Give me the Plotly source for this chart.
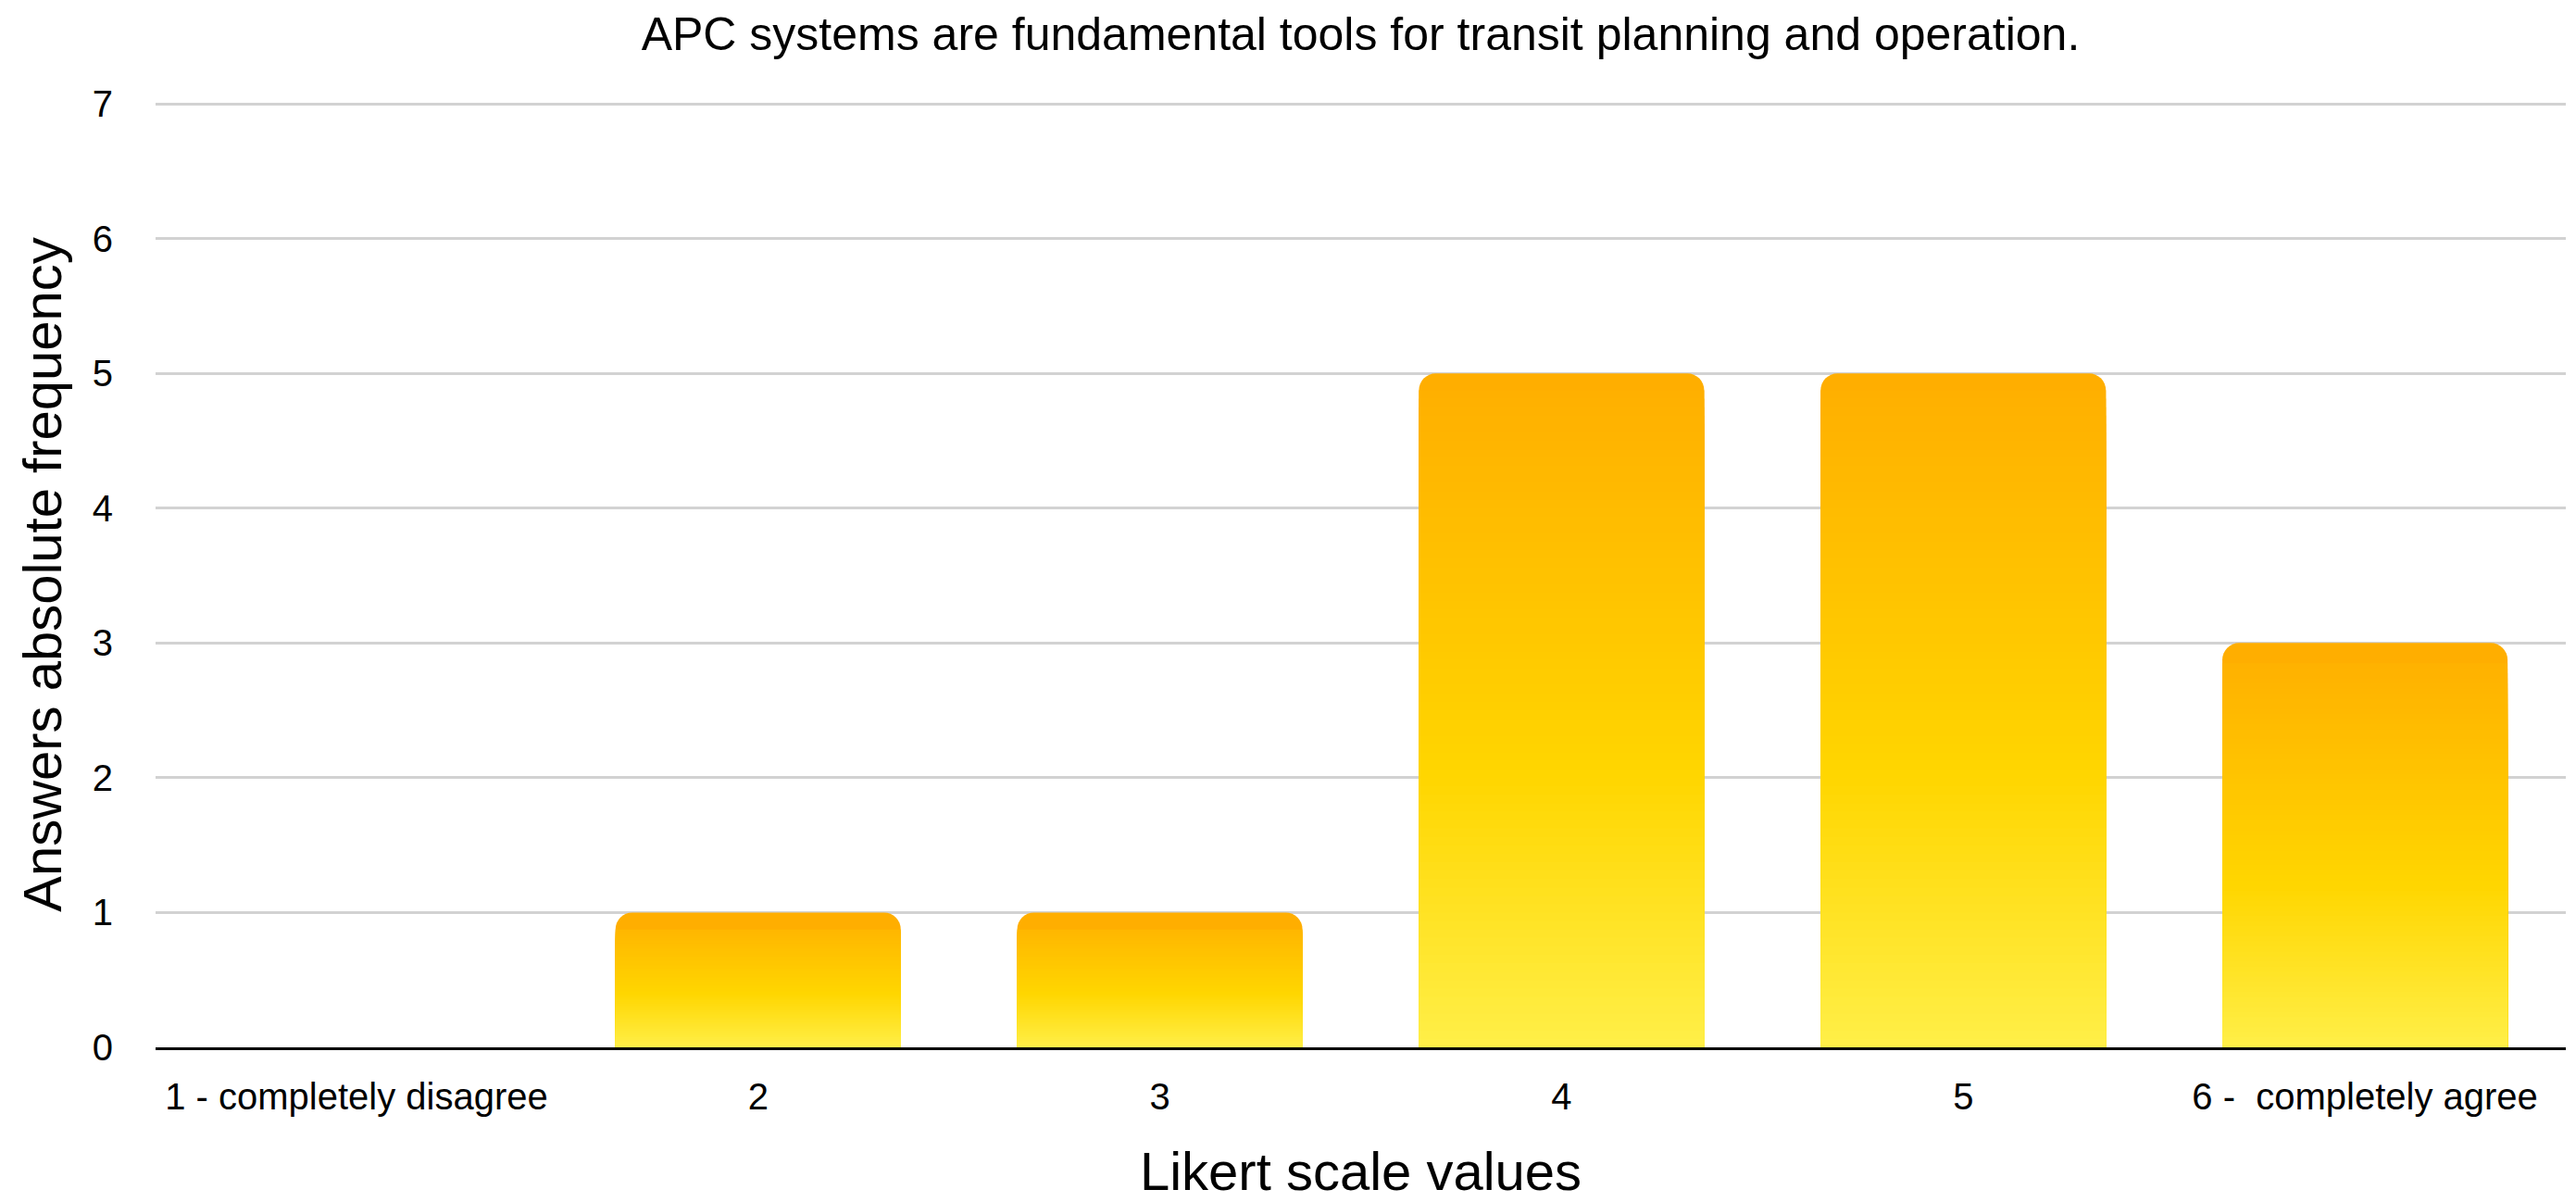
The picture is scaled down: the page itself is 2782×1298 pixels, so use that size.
import plotly.graph_objects as go

# ---- data ----
categories = ["1 - completely disagree", "2", "3", "4", "5", "6 -\u00a0 completely agree"]
counts = [0, 1, 1, 5, 5, 3]
y_tick_values = [0, 1, 2, 3, 4, 5, 6, 7]

title_text = "APC systems are fundamental tools for transit planning and operation."
x_title = "Likert scale values"
y_title = "Answers absolute frequency"

# ---- styling ----
W, H = 2782, 1298
MARGIN = dict(l=168, r=11, t=110, b=163)
Y_MAX = 7.015
CORNER_PX = 18
N_LAYERS = 80
FONT = "Liberation Sans, Arial, Helvetica, sans-serif"
GRADIENT = [(0.0, (255, 174, 0)), (0.6, (255, 214, 0)), (1.0, (255, 239, 72))]


def grad(t):
    for (t0, c0), (t1, c1) in zip(GRADIENT[:-1], GRADIENT[1:]):
        if t <= t1:
            f = (t - t0) / (t1 - t0) if t1 > t0 else 0
            r, g, b = (round(a + (bb - a) * f) for a, bb in zip(c0, c1))
            return f"rgb({r},{g},{b})"
    r, g, b = GRADIENT[-1][1]
    return f"rgb({r},{g},{b})"


px_per_unit = (H - MARGIN["t"] - MARGIN["b"]) / Y_MAX
r_data = CORNER_PX / px_per_unit

fig = go.Figure()
# full-height rounded bar (top colour)
fig.add_trace(go.Bar(
    x=categories, y=counts,
    marker=dict(color=grad(0.0), cornerradius=CORNER_PX, line=dict(width=0)),
    showlegend=False,
    hovertemplate="%{x}: %{y}<extra></extra>",
))
# nested layers producing the vertical gradient inside each bar
for k in range(1, N_LAYERS):
    t = k / N_LAYERS
    heights = [v * (1 - t) if v * t >= r_data else None for v in counts]
    fig.add_trace(go.Bar(
        x=categories, y=heights,
        marker=dict(color=grad((k + 0.5) / N_LAYERS), line=dict(width=0)),
        showlegend=False, hoverinfo="skip",
    ))

fig.update_layout(
    width=W, height=H,
    margin=MARGIN,
    barmode="overlay",
    bargap=0.29,
    plot_bgcolor="white",
    paper_bgcolor="white",
    font=dict(family=FONT, color="#000000"),
    title=dict(
        text=title_text,
        font=dict(size=50, color="#000000"),
        x=0.5, xref="paper", xanchor="center",
        y=1 - 36 / H, yref="container", yanchor="middle",
    ),
)
fig.update_xaxes(
    showline=True, linecolor="#000000", linewidth=3,
    showgrid=False, ticks="",
    tickfont=dict(size=40, color="#000000"),
    ticklabelstandoff=16,
    title=dict(text=x_title, font=dict(size=58, color="#000000"), standoff=40),
)
fig.update_yaxes(
    range=[0, Y_MAX], tickvals=y_tick_values,
    showgrid=True, gridcolor="#d2d2d2", gridwidth=3,
    zeroline=False, showline=False, ticks="",
    tickfont=dict(size=40, color="#000000"),
    ticklabelstandoff=45,
    title=dict(text=y_title, font=dict(size=58, color="#000000"), standoff=14),
)

fig.write_html(
    "out.html",
    config={"displayModeBar": False},
    post_script="document.body.style.margin='0';document.body.style.overflow='hidden';",
)
